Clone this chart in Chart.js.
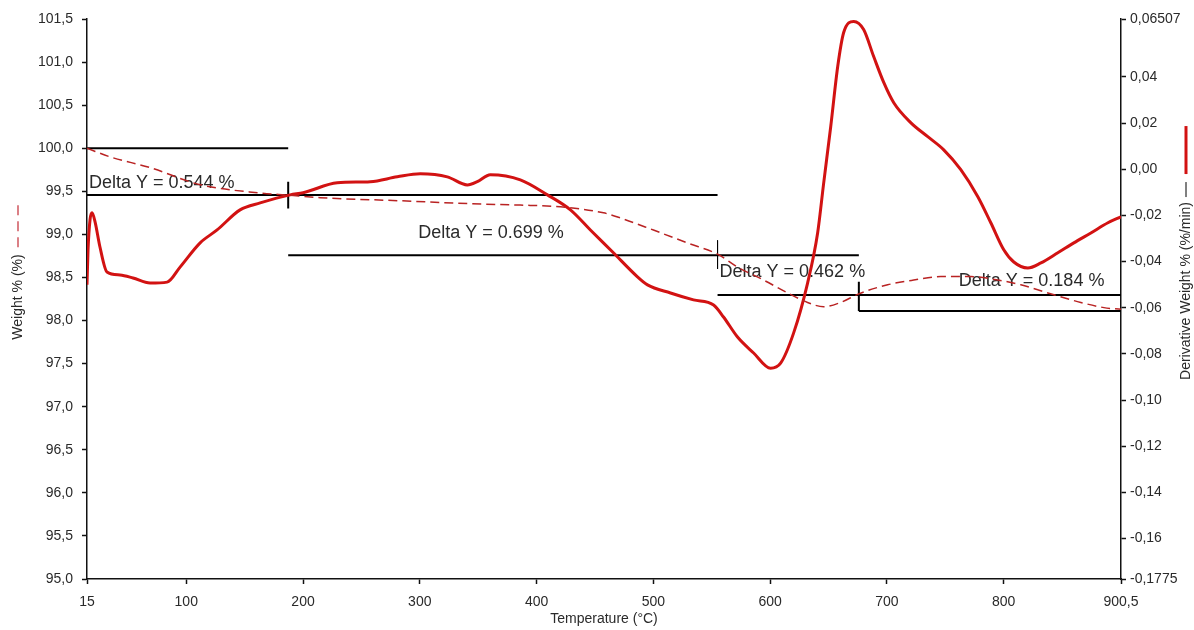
<!DOCTYPE html>
<html>
<head>
<meta charset="utf-8">
<script src="https://cdn.jsdelivr.net/npm/chart.js@4.4.1/dist/chart.umd.min.js"></script>
<style>
  body { margin: 0; background: #fff; }
  #wrap { width: 1194px; height: 630px; position: relative; }
</style>
</head>
<body>
<div id="wrap"><canvas id="tgaChart"></canvas></div>
<script>
// --- data ---
const weightTemp = [15, 34.7, 69, 111.9, 163.3, 187.3, 214.7, 283.3, 343.3, 386, 420.4, 457.3, 471.9, 500.1, 529.3, 555,
  572.1, 594.4, 615, 632.1, 645.9, 660.4, 675.9, 700.7, 723, 746.1, 771.9, 795, 814.7, 837.9, 866.1, 885.9, 900.5];
const weightPct = [100.0, 99.90, 99.775, 99.577, 99.48, 99.455, 99.426, 99.39, 99.356, 99.34, 99.32, 99.25, 99.19, 99.05, 98.90, 98.77,
  98.62, 98.47, 98.32, 98.21, 98.16, 98.21, 98.31, 98.415, 98.47, 98.51, 98.51, 98.47, 98.415, 98.32, 98.21, 98.15, 98.13];

const derivTemp = [15, 15.9, 17.6, 19.3, 21.9, 26.1, 32.1, 43.3, 54.4, 69, 83.6, 94.7, 111.9, 126.4, 146.1, 163.3, 189,
  200.1, 229.3, 257.6, 280.7, 300.4, 323.6, 340.7, 349.3, 360.4, 386.1, 409.3, 429, 446.1, 465.8, 486.4,
  495, 514.7, 534.4, 551.6, 560.1, 572.1, 585.9, 600.4, 609, 620.1, 632.1, 640.7, 645.9, 651.9, 657.9, 663,
  671.6, 680.1, 688.7, 697.3, 705.9, 720.4, 735, 748.7, 763.3, 777.9, 789, 800.1, 808.7, 820.7, 831.9, 846.4,
  860.1, 874.7, 889.3, 900.5];
const derivVal = [-0.0500, -0.0348, -0.0219, -0.0189, -0.0228, -0.0337, -0.0445, -0.0458, -0.0471, -0.0493, -0.0489, -0.0424, -0.0319, -0.0263, -0.0176, -0.0146, -0.0111,
  -0.0102, -0.0059, -0.0054, -0.0033, -0.0020, -0.0033, -0.0068, -0.0054, -0.0024, -0.0046, -0.0111, -0.0176, -0.0263, -0.0362, -0.0466,
  -0.0501, -0.0536, -0.0566, -0.0588, -0.0640, -0.0727, -0.0796, -0.0862, -0.0840, -0.0710, -0.0493, -0.0276, -0.0059, 0.0184, 0.0445, 0.0592,
  0.0640, 0.0605, 0.0488, 0.0376, 0.0288, 0.0202, 0.0141, 0.0084, -0.0002, -0.0119, -0.0232, -0.0349, -0.0402, -0.0428, -0.0406, -0.0362,
  -0.0319, -0.0276, -0.0232, -0.0206];

// step analysis: temperatures of the steps and weight levels between them
const stepTemp = [15, 187.3, 555, 676, 900.5];
const stepLevel = [100.0, 99.456, 98.757, 98.295, 98.111];
const stepDelta = ['0.544', '0.699', '0.462', '0.184'];
const markerTop = [99.61, 98.93, 98.45];
const markerBottom = [99.30, 98.60, 98.11];

// ticks
const tempTicks = [15, 100, 200, 300, 400, 500, 600, 700, 800, 900.5];
const weightTicks = [95, 95.5, 96, 96.5, 97, 97.5, 98, 98.5, 99, 99.5, 100, 100.5, 101, 101.5];
const derivTicks = [-0.1775, -0.16, -0.14, -0.12, -0.10, -0.08, -0.06, -0.04, -0.02, 0, 0.02, 0.04, 0.06507];

const FONT = "'Liberation Sans', Arial, sans-serif";
const TEXT = '#2a2a2a';

function comma(s) { return s.replace('.', ','); }

// --- build datasets from the arrays ---
const datasets = [];

datasets.push({
  label: 'Weight % (%)',
  data: weightTemp.map((t, i) => ({ x: t, y: weightPct[i] })),
  yAxisID: 'yW',
  borderColor: 'rgb(185, 35, 35)',
  borderWidth: 1.5,
  borderDash: [9, 5],
  pointRadius: 0,
  cubicInterpolationMode: 'monotone',
  order: 0
});

datasets.push({
  label: 'Derivative Weight % (%/min)',
  data: derivTemp.map((t, i) => ({ x: t, y: derivVal[i] })),
  yAxisID: 'yD',
  borderColor: 'rgb(210, 18, 18)',
  borderWidth: 3,
  pointRadius: 0,
  cubicInterpolationMode: 'monotone',
  order: 0
});

// horizontal level lines
stepLevel.forEach((lvl, i) => {
  const from = stepTemp[Math.max(i - 1, 0)];
  const to = stepTemp[Math.min(i + 1, stepTemp.length - 1)];
  datasets.push({
    data: [{ x: from, y: lvl }, { x: to, y: lvl }],
    yAxisID: 'yW',
    borderColor: '#000',
    borderWidth: 2,
    pointRadius: 0,
    order: 1
  });
});

// vertical step markers
markerTop.forEach((top, i) => {
  datasets.push({
    data: [{ x: stepTemp[i + 1], y: top }, { x: stepTemp[i + 1], y: markerBottom[i] }],
    yAxisID: 'yW',
    borderColor: '#000',
    borderWidth: i === 1 ? 1 : 2,
    pointRadius: 0,
    order: 1
  });
});

// --- plugins ---
// "Delta Y = ..." texts, drawn under the curves
const deltaLabels = {
  id: 'deltaLabels',
  beforeDatasetsDraw(chart, args, opts) {
    const { ctx, scales } = chart;
    ctx.save();
    ctx.font = '18px ' + FONT;
    ctx.fillStyle = TEXT;
    ctx.textBaseline = 'middle';
    ctx.textAlign = 'left';
    opts.anchors.forEach((a, i) => {
      ctx.fillText('Delta Y = ' + stepDelta[i] + ' %', scales.x.getPixelForValue(a[0]), scales.yW.getPixelForValue(a[1]));
    });
    ctx.restore();
  }
};

// axis titles with the little legend marks
const axisTitles = {
  id: 'axisTitles',
  afterDraw(chart) {
    const { ctx, chartArea } = chart;
    const midY = (chartArea.top + chartArea.bottom) / 2;
    ctx.save();
    ctx.font = '14px ' + FONT;
    ctx.fillStyle = TEXT;
    ctx.textBaseline = 'middle';
    ctx.textAlign = 'center';
    ctx.fillText('Temperature (\u00b0C)', (chartArea.left + chartArea.right) / 2, 619);

    // left title
    ctx.save();
    ctx.translate(18, midY - 2);
    ctx.rotate(-Math.PI / 2);
    ctx.fillText('Weight % (%)', 0, 0);
    const lw = ctx.measureText('Weight % (%)').width;
    ctx.strokeStyle = 'rgb(200, 60, 70)';
    ctx.lineWidth = 1.3;
    ctx.setLineDash([10, 6]);
    ctx.beginPath();
    ctx.moveTo(lw / 2 + 7, 0);
    ctx.lineTo(lw / 2 + 55, 0);
    ctx.stroke();
    ctx.restore();

    // right title
    ctx.save();
    ctx.translate(1186, midY - 8);
    ctx.rotate(-Math.PI / 2);
    const rt = 'Derivative Weight % (%/min)';
    ctx.fillText(rt, 0, 0);
    const rw = ctx.measureText(rt).width;
    ctx.strokeStyle = '#000';
    ctx.lineWidth = 1;
    ctx.beginPath();
    ctx.moveTo(rw / 2 + 5, 0);
    ctx.lineTo(rw / 2 + 20, 0);
    ctx.stroke();
    ctx.strokeStyle = 'rgb(210, 18, 18)';
    ctx.lineWidth = 3;
    ctx.beginPath();
    ctx.moveTo(rw / 2 + 28, 0);
    ctx.lineTo(rw / 2 + 76, 0);
    ctx.stroke();
    ctx.restore();

    ctx.restore();
  }
};

function tickGrid() {
  return { display: true, drawOnChartArea: false, drawTicks: true, tickLength: 5, tickWidth: 1.5, color: '#111' };
}

const ctx = document.getElementById('tgaChart').getContext('2d');
const myChart = new Chart(ctx, {
  type: 'line',
  data: { datasets: datasets },
  plugins: [deltaLabels, axisTitles],
  options: {
    responsive: true,
    maintainAspectRatio: false,
    animation: false,
    layout: { padding: { top: 19, left: 0, right: 0, bottom: 0 } },
    plugins: {
      legend: { display: false },
      tooltip: { enabled: false },
      deltaLabels: {
        anchors: [[16.7, 99.60], [298.7, 99.01], [556.7, 98.566], [761.6, 98.46]]
      }
    },
    scales: {
      x: {
        type: 'linear',
        min: 15,
        max: 900.5,
        afterBuildTicks: (s) => { s.ticks = tempTicks.map(v => ({ value: v })); },
        afterFit: (s) => { s.height = 51; },
        grid: tickGrid(),
        border: { display: true, color: '#111', width: 1.5 },
        ticks: {
          autoSkip: false, maxRotation: 0, padding: 10,
          color: TEXT, font: { family: FONT, size: 14 },
          callback: (v) => comma(String(v))
        }
      },
      yW: {
        type: 'linear',
        position: 'left',
        min: 95,
        max: 101.5,
        afterBuildTicks: (s) => { s.ticks = weightTicks.map(v => ({ value: v })); },
        afterFit: (s) => { s.width = 87; },
        grid: tickGrid(),
        border: { display: true, color: '#111', width: 1.5 },
        ticks: {
          padding: 9,
          color: TEXT, font: { family: FONT, size: 14 },
          callback: (v) => comma(v.toFixed(1))
        }
      },
      yD: {
        type: 'linear',
        position: 'right',
        min: -0.1775,
        max: 0.06507,
        afterBuildTicks: (s) => { s.ticks = derivTicks.map(v => ({ value: v })); },
        afterFit: (s) => { s.width = 73; },
        grid: tickGrid(),
        border: { display: true, color: '#111', width: 1.5 },
        ticks: {
          padding: 4,
          color: TEXT, font: { family: FONT, size: 14 },
          callback: (v, i) => (i === 0 || i === derivTicks.length - 1) ? comma(String(v)) : comma(v.toFixed(2))
        }
      }
    }
  }
});
</script>
</body>
</html>
